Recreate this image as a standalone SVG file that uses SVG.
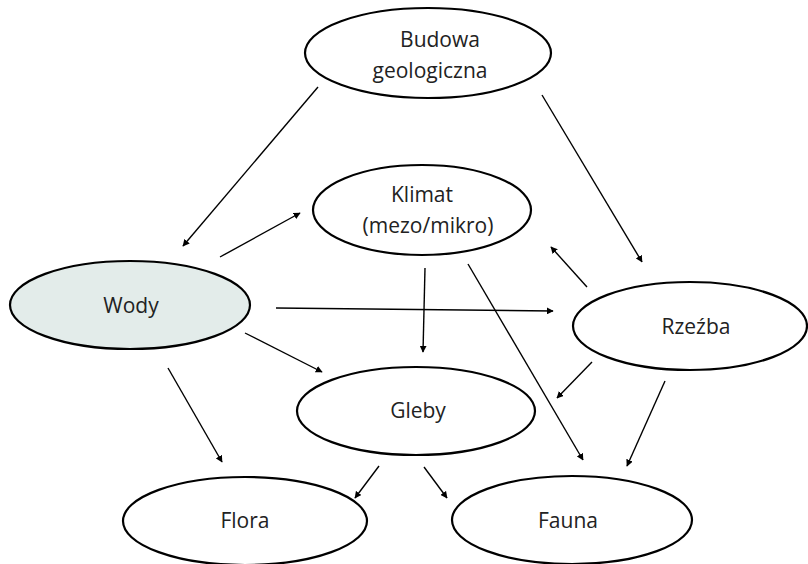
<svg xmlns="http://www.w3.org/2000/svg" width="808" height="564" viewBox="0 0 808 564">
<style>
.n{fill:#fff;stroke:#000;stroke-width:2.2}
.w{fill:#e3ecea}
.t{font-family:"Open Sans","Noto Sans",sans-serif;font-size:21px;fill:#222;text-anchor:middle}
.c line{stroke:#000;stroke-width:1.4;marker-end:url(#a)}
</style>
<defs>
<marker id="a" viewBox="0 0 10 10" refX="9" refY="5" markerWidth="7" markerHeight="7" markerUnits="userSpaceOnUse" orient="auto"><path d="M0,0L10,5L0,10z" fill="#000"/></marker>
</defs>
<g id="budowa"><ellipse class="n" cx="428" cy="53" rx="123" ry="45"/><text class="t" x="440" y="47">Budowa</text><text class="t" x="430" y="78">geologiczna</text></g>
<g id="klimat"><ellipse class="n" cx="422" cy="210" rx="109" ry="45"/><text class="t" x="422" y="202">Klimat</text><text class="t" x="428" y="233">(mezo/mikro)</text></g>
<g id="wody"><ellipse class="n w" cx="130" cy="305" rx="120" ry="44"/><text class="t" x="131" y="313">Wody</text></g>
<g id="rzezba"><ellipse class="n" cx="690" cy="326" rx="117" ry="44"/><text class="t" x="696" y="334">Rzeźba</text></g>
<g id="gleby"><ellipse class="n" cx="416" cy="411" rx="119" ry="44"/><text class="t" x="418" y="418">Gleby</text></g>
<g id="flora"><ellipse class="n" cx="245" cy="521" rx="122" ry="44"/><text class="t" x="245" y="528">Flora</text></g>
<g id="fauna"><ellipse class="n" cx="572" cy="520" rx="120" ry="44"/><text class="t" x="568" y="528">Fauna</text></g>
<g class="c" id="connectors">
<line x1="318" y1="87" x2="183" y2="246"/>
<line x1="542" y1="95" x2="642" y2="262"/>
<line x1="220" y1="257" x2="300" y2="213"/>
<line x1="276" y1="308" x2="553" y2="311"/>
<line x1="245" y1="333" x2="322" y2="372"/>
<line x1="168" y1="368" x2="222" y2="462"/>
<line x1="425" y1="268" x2="423" y2="352"/>
<line x1="468" y1="264" x2="583" y2="460"/>
<line x1="587" y1="287" x2="551" y2="247"/>
<line x1="592" y1="362" x2="557" y2="398"/>
<line x1="665" y1="381" x2="627" y2="466"/>
<line x1="379" y1="466" x2="355" y2="498"/>
<line x1="424" y1="467" x2="447" y2="498"/>
</g>
</svg>
